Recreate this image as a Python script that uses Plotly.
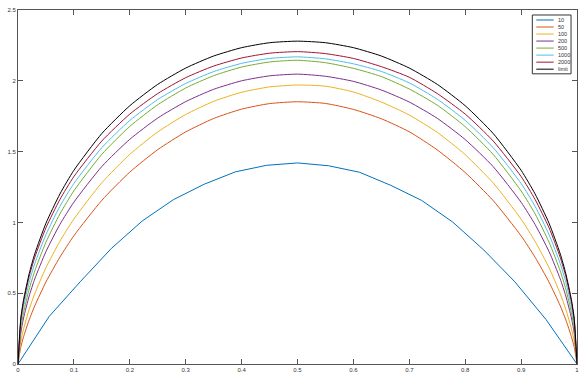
import plotly.graph_objects as go

# ---- data ----
x_grid = [0, 0.005, 0.01, 0.02, 0.03, 0.05, 0.075, 0.1, 0.15, 0.2, 0.25, 0.3, 0.35, 0.4, 0.45, 0.5,
          0.55, 0.6, 0.65, 0.7, 0.75, 0.8, 0.85, 0.9, 0.925, 0.95, 0.97, 0.98, 0.99, 0.995, 1]

x_n10 = [0, 0.0556, 0.1111, 0.1667, 0.2222, 0.2778, 0.3333, 0.3889, 0.4444, 0.5,
         0.5556, 0.6111, 0.6667, 0.7222, 0.7778, 0.8333, 0.8889, 0.9444, 1]
y_n10 = [0, 0.335, 0.58, 0.815, 1.01, 1.16, 1.27, 1.357, 1.403, 1.42,
         1.40, 1.354, 1.262, 1.155, 1.002, 0.805, 0.58, 0.315, 0]

y_n50 = [0, 0.119, 0.193, 0.312, 0.411, 0.579, 0.755, 0.906, 1.156, 1.355, 1.514, 1.639, 1.734, 1.800, 1.839, 1.852,
         1.840, 1.798, 1.732, 1.640, 1.512, 1.352, 1.154, 0.905, 0.754, 0.578, 0.411, 0.312, 0.193, 0.119, 0]
y_n100 = [0, 0.161, 0.249, 0.386, 0.497, 0.680, 0.867, 1.024, 1.280, 1.481, 1.639, 1.762, 1.855, 1.919, 1.957, 1.970,
          1.962, 1.921, 1.850, 1.758, 1.636, 1.478, 1.279, 1.023, 0.866, 0.680, 0.497, 0.386, 0.249, 0.161, 0]
y_n200 = [0, 0.219, 0.325, 0.480, 0.601, 0.794, 0.986, 1.143, 1.395, 1.587, 1.737, 1.853, 1.940, 2.000, 2.035, 2.047,
          2.032, 1.996, 1.935, 1.850, 1.735, 1.585, 1.394, 1.142, 0.985, 0.794, 0.601, 0.480, 0.325, 0.219, 0]
y_n500 = [0, 0.249, 0.363, 0.529, 0.657, 0.860, 1.060, 1.223, 1.481, 1.678, 1.831, 1.949, 2.036, 2.097, 2.133, 2.145,
          2.128, 2.088, 2.030, 1.942, 1.828, 1.676, 1.480, 1.222, 1.060, 0.860, 0.657, 0.529, 0.363, 0.249, 0]
y_n1000 = [0, 0.283, 0.405, 0.577, 0.709, 0.914, 1.114, 1.275, 1.528, 1.720, 1.868, 1.981, 2.065, 2.123, 2.158, 2.169,
           2.155, 2.120, 2.066, 1.985, 1.870, 1.721, 1.528, 1.275, 1.114, 0.914, 0.709, 0.577, 0.405, 0.283, 0]
y_n2000 = [0, 0.311, 0.439, 0.618, 0.753, 0.962, 1.162, 1.324, 1.575, 1.765, 1.910, 2.022, 2.104, 2.161, 2.195, 2.206,
           2.192, 2.158, 2.100, 2.025, 1.910, 1.765, 1.575, 1.324, 1.162, 0.962, 0.753, 0.618, 0.439, 0.311, 0]
y_limit = [0, 0.322, 0.454, 0.638, 0.778, 0.994, 1.201, 1.368, 1.628, 1.824, 1.975, 2.090, 2.175, 2.234, 2.269, 2.280,
           2.269, 2.234, 2.175, 2.090, 1.975, 1.824, 1.628, 1.368, 1.201, 0.994, 0.778, 0.638, 0.454, 0.322, 0]

names = ["10", "50", "100", "200", "500", "1000", "2000", "limit"]
xs = [x_n10] + [x_grid] * 7
ys = [y_n10, y_n50, y_n100, y_n200, y_n500, y_n1000, y_n2000, y_limit]
colors = ["#0072BD", "#D95319", "#EDB120", "#7E2F8E", "#77AC30", "#4DBEEE", "#A2142F", "#000000"]

x_ticks = [0, 0.1, 0.2, 0.3, 0.4, 0.5, 0.6, 0.7, 0.8, 0.9, 1]
x_tick_text = ["0", "0.1", "0.2", "0.3", "0.4", "0.5", "0.6", "0.7", "0.8", "0.9", "1"]
y_ticks = [0, 0.5, 1, 1.5, 2, 2.5]
y_tick_text = ["0", "0.5", "1", "1.5", "2", "2.5"]

# ---- figure ----
W, H = 586, 389
ML, MR, MT, MB = 16, 7, 9, 25
PW, PH = W - ML - MR, H - MT - MB

fig = go.Figure()
for x, y, n, c in zip(xs, ys, names, colors):
    shape = "linear" if n == "10" else "spline"
    fig.add_trace(go.Scatter(x=x, y=y, mode="lines", name=n, showlegend=False,
                             line=dict(color=c, width=1, shape=shape, smoothing=0.6)))

axis_col = "#555555"
font = dict(family="Liberation Sans, Arial, sans-serif", size=6, color="#333333")
fig.update_layout(
    width=W, height=H, margin=dict(l=ML, r=MR, t=MT, b=MB),
    paper_bgcolor="white", plot_bgcolor="white", font=font,
    xaxis=dict(range=[0, 1], tickvals=x_ticks, ticktext=x_tick_text, showgrid=False, zeroline=False,
               showline=True, linecolor=axis_col, linewidth=1, mirror="ticks",
               ticks="inside", ticklen=5, tickcolor=axis_col, tickwidth=1, tickfont=font),
    yaxis=dict(range=[0, 2.5], tickvals=y_ticks, ticktext=y_tick_text, showgrid=False, zeroline=False,
               showline=True, linecolor=axis_col, linewidth=1, mirror="ticks",
               ticks="inside", ticklen=5, tickcolor=axis_col, tickwidth=1, tickfont=font),
)

# ---- manual compact legend (MATLAB style) ----
def px(xp):
    return (xp - ML) / PW

def py(yp):
    return (H - MB - yp) / PH

fig.add_shape(type="rect", xref="paper", yref="paper", x0=px(534), x1=px(573), y0=py(73), y1=py(14),
              line=dict(color="#333333", width=1), fillcolor="white")
for i, (n, c) in enumerate(zip(names, colors)):
    yy = 19 + i * 7.05
    fig.add_shape(type="line", xref="paper", yref="paper", x0=px(538), x1=px(555.5), y0=py(yy), y1=py(yy),
                  line=dict(color=c, width=1))
    fig.add_annotation(xref="paper", yref="paper", x=px(557.5), y=py(yy), text=n, showarrow=False,
                       xanchor="left", yanchor="middle", font=dict(family="Liberation Sans, Arial, sans-serif",
                                                                    size=5.5, color="#333333"))

fig.write_html("out.html")
